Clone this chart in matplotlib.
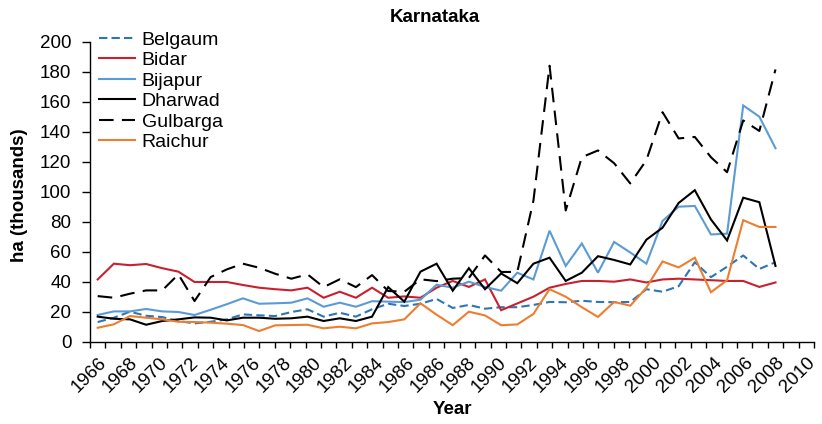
"""
karnataka_area.py - district-wise area (ha, thousands), Karnataka 1966-2008.
Line chart with an Excel-style category axis: 48 tick marks, every other one labelled.
"""

import matplotlib
matplotlib.use("Agg")
import matplotlib.pyplot as plt

plt.rcParams["font.family"] = ["Liberation Sans", "DejaVu Sans"]

# ── Data ───────────────────────────────────────────────────────────────────
years = list(range(1966, 2009))

belgaum = [13.1, 16.0, 20.0, 17.3, 16.4, 13.8, 12.2, 13.3, 14.9, 18.2, 17.6, 17.1, 19.8, 21.6, 16.7,
           19.3, 16.7, 21.6, 25.3, 23.8, 25.3, 28.5, 22.5, 24.5, 22.0, 23.0, 23.0, 24.5, 26.5, 26.3,
           27.3, 26.5, 26.3, 26.5, 35.0, 33.3, 37.0, 53.0, 43.0, 50.0, 57.5, 48.5, 53.0]
bidar = [41.5, 52.0, 51.0, 51.8, 49.0, 46.7, 39.8, 39.8, 39.8, 37.8, 36.0, 35.0, 34.2, 36.0, 29.3,
         33.3, 29.3, 36.0, 29.3, 30.2, 29.3, 36.0, 40.5, 36.5, 41.5, 21.0, 25.5, 30.0, 36.0, 38.5,
         40.5, 40.5, 40.0, 41.5, 39.5, 41.5, 42.0, 41.5, 41.0, 40.5, 40.5, 36.5, 39.5]
bijapur = [17.8, 20.2, 20.2, 21.8, 20.2, 19.8, 17.8, 21.3, 25.0, 28.9, 25.3, 25.6, 26.0, 28.9, 23.3,
           26.0, 23.3, 27.0, 26.7, 26.4, 28.0, 38.0, 36.0, 40.0, 36.5, 34.0, 46.0, 41.5, 74.0, 50.5,
           65.5, 46.0, 66.5, 59.5, 52.0, 80.5, 90.0, 90.5, 71.5, 72.0, 157.5, 150.0, 129.0]
dharwad = [16.7, 15.3, 14.9, 11.3, 13.8, 14.9, 16.2, 16.0, 14.2, 16.0, 16.0, 15.3, 15.6, 16.7, 13.8,
           15.6, 13.8, 16.7, 36.4, 26.7, 46.7, 52.0, 34.0, 49.0, 35.0, 45.5, 39.0, 52.0, 56.0, 40.5,
           46.0, 57.0, 54.5, 51.5, 68.0, 76.0, 92.5, 101.0, 81.5, 67.5, 96.0, 93.0, 50.5]
gulbarga = [30.4, 29.3, 32.0, 34.2, 34.2, 44.9, 27.1, 43.1, 48.2, 52.0, 49.3, 45.3, 42.0, 44.9, 36.4,
            41.6, 36.4, 44.4, 33.8, 33.3, 41.6, 40.4, 42.0, 42.5, 57.5, 46.5, 46.5, 94.0, 184.0, 87.5,
            123.0, 127.5, 119.0, 105.5, 121.0, 153.0, 135.5, 136.5, 123.0, 113.0, 147.5, 140.5, 181.5]
raichur = [9.3, 11.6, 17.1, 16.0, 14.9, 13.3, 13.1, 12.7, 12.0, 11.1, 7.1, 10.9, 11.1, 11.3, 8.9,
           10.0, 8.9, 12.2, 13.1, 14.9, 25.6, 18.0, 11.0, 20.0, 17.5, 11.0, 11.5, 18.5, 35.0, 30.0,
           23.0, 16.5, 26.5, 24.0, 36.0, 53.5, 49.5, 56.0, 33.0, 41.0, 81.0, 76.5, 76.5]

# Category labels exactly as printed on the original axis (note the repeated 1986)
tick_labels = ["1966", "1968", "1970", "1972", "1974", "1976", "1978", "1980", "1982", "1984",
               "1986", "1986", "1988", "1990", "1992", "1994", "1996", "1998", "2000", "2002",
               "2004", "2006", "2008", "2010"]

series = [
    ("Belgaum", belgaum, "#2E75B6", (4.0, 2.0)),
    ("Bidar", bidar, "#C8202F", None),
    ("Bijapur", bijapur, "#5B9BD5", None),
    ("Dharwad", dharwad, "#000000", None),
    ("Gulbarga", gulbarga, "#000000", (7.0, 4.0)),
    ("Raichur", raichur, "#ED7D31", None),
]


def plot_chart(path: str = "out.png") -> None:
    fig = plt.figure(figsize=(8.22, 4.24), dpi=100)
    ax = fig.add_axes([90 / 822, 82.3 / 424, 724 / 822, 300 / 424])

    for name, values, color, dashes in series:
        line, = ax.plot(years, values, color=color, linewidth=1.5, label=name,
                        solid_joinstyle="miter")
        if dashes:
            line.set_dashes(dashes)

    # category axis: 48 marks, labelled slots are the even ones;
    # data spans from the first label (1966) to the 23rd (2008)
    n_slots = 2 * len(tick_labels)
    slot = (years[-1] - years[0]) / (n_slots - 4)
    x0 = years[0] - 0.5 * slot
    ax.set_xlim(x0, x0 + (n_slots - 1) * slot)
    ax.set_xticks([x0 + k * slot for k in range(n_slots)], minor=True)
    ax.set_xticks([years[0] + 2 * j * slot for j in range(len(tick_labels))])
    ax.set_xticklabels(tick_labels, rotation=45, ha="right", va="top",
                       rotation_mode="anchor", fontsize=13.5)
    ax.tick_params(axis="x", which="major", length=0, pad=9)
    ax.tick_params(axis="x", which="minor", length=4.5, width=1, direction="out")

    ax.set_ylim(0, 200)
    ax.set_yticks(range(0, 201, 20))
    ax.tick_params(axis="y", length=6, width=1, pad=7.5, labelsize=13.5)

    for side in ("top", "right"):
        ax.spines[side].set_visible(False)
    for side in ("left", "bottom"):
        ax.spines[side].set_linewidth(1)

    fig.text(435 / 822, 1 - 18 / 424, "Karnataka", ha="center", va="center",
             fontsize=13.5, fontweight="bold")
    fig.text(20 / 822, 1 - 195 / 424, "ha (thousands)", ha="center", va="center",
             rotation=90, fontsize=13.5, fontweight="bold")
    fig.text(452 / 822, 1 - 410 / 424, "Year", ha="center", va="center",
             fontsize=13.5, fontweight="bold")

    ax.legend(loc="upper left", bbox_to_anchor=(99 / 822, 1 - 31 / 424),
              bbox_transform=fig.transFigure, frameon=False, fontsize=14,
              handlelength=1.85, handletextpad=0.35, labelspacing=0.15,
              borderpad=0, borderaxespad=0)

    fig.savefig(path, dpi=100)
    plt.close(fig)


if __name__ == "__main__":
    plot_chart()
